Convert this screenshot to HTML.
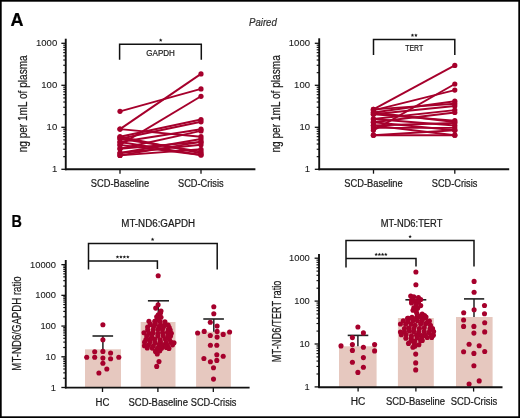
<!DOCTYPE html>
<html><head><meta charset="utf-8"><title>Figure</title>
<style>
html,body{margin:0;padding:0;background:#fff;}
body{width:520px;height:418px;overflow:hidden;font-family:"Liberation Sans",sans-serif;}
svg{display:block;will-change:transform;}
</style></head><body>
<svg width="520" height="418" viewBox="0 0 520 418" font-family="'Liberation Sans', sans-serif">
<rect x="0" y="0" width="520" height="418" fill="#fff"/>
<text x="10.60" y="25.80" font-size="18" text-anchor="start" fill="#000" stroke="#000" stroke-width="0.22" font-weight="bold">A</text>
<text x="11.40" y="226.80" font-size="17.2" text-anchor="start" fill="#000" stroke="#000" stroke-width="0.22" font-weight="bold" textLength="10.40" lengthAdjust="spacingAndGlyphs">B</text>
<text x="249.00" y="25.60" font-size="10" text-anchor="start" fill="#333" stroke="#333" stroke-width="0.22" font-style="italic" textLength="27.80" lengthAdjust="spacingAndGlyphs">Paired</text>
<line x1="65.75" y1="38.70" x2="65.75" y2="170.20" stroke="#111" stroke-width="1.9" stroke-linecap="butt"/>
<line x1="61.35" y1="169.30" x2="65.75" y2="169.30" stroke="#111" stroke-width="1.3" stroke-linecap="butt"/>
<text x="57.20" y="172.40" font-size="9.8" text-anchor="end" fill="#1a1a1a" stroke="#1a1a1a" stroke-width="0.1" textLength="5.30" lengthAdjust="spacingAndGlyphs">1</text>
<line x1="63.25" y1="156.66" x2="65.75" y2="156.66" stroke="#111" stroke-width="1.15" stroke-linecap="butt"/>
<line x1="63.25" y1="149.26" x2="65.75" y2="149.26" stroke="#111" stroke-width="1.15" stroke-linecap="butt"/>
<line x1="63.25" y1="144.01" x2="65.75" y2="144.01" stroke="#111" stroke-width="1.15" stroke-linecap="butt"/>
<line x1="63.25" y1="139.94" x2="65.75" y2="139.94" stroke="#111" stroke-width="1.15" stroke-linecap="butt"/>
<line x1="63.25" y1="136.62" x2="65.75" y2="136.62" stroke="#111" stroke-width="1.15" stroke-linecap="butt"/>
<line x1="63.25" y1="133.81" x2="65.75" y2="133.81" stroke="#111" stroke-width="1.15" stroke-linecap="butt"/>
<line x1="63.25" y1="131.37" x2="65.75" y2="131.37" stroke="#111" stroke-width="1.15" stroke-linecap="butt"/>
<line x1="63.25" y1="129.22" x2="65.75" y2="129.22" stroke="#111" stroke-width="1.15" stroke-linecap="butt"/>
<line x1="61.35" y1="127.30" x2="65.75" y2="127.30" stroke="#111" stroke-width="1.3" stroke-linecap="butt"/>
<text x="57.20" y="130.40" font-size="9.8" text-anchor="end" fill="#1a1a1a" stroke="#1a1a1a" stroke-width="0.1" textLength="10.60" lengthAdjust="spacingAndGlyphs">10</text>
<line x1="63.25" y1="114.66" x2="65.75" y2="114.66" stroke="#111" stroke-width="1.15" stroke-linecap="butt"/>
<line x1="63.25" y1="107.26" x2="65.75" y2="107.26" stroke="#111" stroke-width="1.15" stroke-linecap="butt"/>
<line x1="63.25" y1="102.01" x2="65.75" y2="102.01" stroke="#111" stroke-width="1.15" stroke-linecap="butt"/>
<line x1="63.25" y1="97.94" x2="65.75" y2="97.94" stroke="#111" stroke-width="1.15" stroke-linecap="butt"/>
<line x1="63.25" y1="94.62" x2="65.75" y2="94.62" stroke="#111" stroke-width="1.15" stroke-linecap="butt"/>
<line x1="63.25" y1="91.81" x2="65.75" y2="91.81" stroke="#111" stroke-width="1.15" stroke-linecap="butt"/>
<line x1="63.25" y1="89.37" x2="65.75" y2="89.37" stroke="#111" stroke-width="1.15" stroke-linecap="butt"/>
<line x1="63.25" y1="87.22" x2="65.75" y2="87.22" stroke="#111" stroke-width="1.15" stroke-linecap="butt"/>
<line x1="61.35" y1="85.30" x2="65.75" y2="85.30" stroke="#111" stroke-width="1.3" stroke-linecap="butt"/>
<text x="57.20" y="88.40" font-size="9.8" text-anchor="end" fill="#1a1a1a" stroke="#1a1a1a" stroke-width="0.1" textLength="15.90" lengthAdjust="spacingAndGlyphs">100</text>
<line x1="63.25" y1="72.66" x2="65.75" y2="72.66" stroke="#111" stroke-width="1.15" stroke-linecap="butt"/>
<line x1="63.25" y1="65.26" x2="65.75" y2="65.26" stroke="#111" stroke-width="1.15" stroke-linecap="butt"/>
<line x1="63.25" y1="60.01" x2="65.75" y2="60.01" stroke="#111" stroke-width="1.15" stroke-linecap="butt"/>
<line x1="63.25" y1="55.94" x2="65.75" y2="55.94" stroke="#111" stroke-width="1.15" stroke-linecap="butt"/>
<line x1="63.25" y1="52.62" x2="65.75" y2="52.62" stroke="#111" stroke-width="1.15" stroke-linecap="butt"/>
<line x1="63.25" y1="49.81" x2="65.75" y2="49.81" stroke="#111" stroke-width="1.15" stroke-linecap="butt"/>
<line x1="63.25" y1="47.37" x2="65.75" y2="47.37" stroke="#111" stroke-width="1.15" stroke-linecap="butt"/>
<line x1="63.25" y1="45.22" x2="65.75" y2="45.22" stroke="#111" stroke-width="1.15" stroke-linecap="butt"/>
<line x1="61.35" y1="43.30" x2="65.75" y2="43.30" stroke="#111" stroke-width="1.3" stroke-linecap="butt"/>
<text x="57.20" y="46.40" font-size="9.8" text-anchor="end" fill="#1a1a1a" stroke="#1a1a1a" stroke-width="0.1" textLength="21.20" lengthAdjust="spacingAndGlyphs">1000</text>
<line x1="65.00" y1="169.30" x2="255.40" y2="169.30" stroke="#111" stroke-width="1.9" stroke-linecap="butt"/>
<line x1="120.00" y1="169.30" x2="120.00" y2="173.70" stroke="#111" stroke-width="1.3" stroke-linecap="butt"/>
<line x1="201.00" y1="169.30" x2="201.00" y2="173.70" stroke="#111" stroke-width="1.3" stroke-linecap="butt"/>
<text x="120.00" y="186.60" font-size="10" text-anchor="middle" fill="#1a1a1a" stroke="#1a1a1a" stroke-width="0.22" textLength="58.40" lengthAdjust="spacingAndGlyphs">SCD-Baseline</text>
<text x="200.80" y="186.60" font-size="10" text-anchor="middle" fill="#1a1a1a" stroke="#1a1a1a" stroke-width="0.22" textLength="45.60" lengthAdjust="spacingAndGlyphs">SCD-Crisis</text>
<text x="26.60" y="103.85" font-size="12.5" text-anchor="middle" fill="#1a1a1a" stroke="#1a1a1a" stroke-width="0.22" textLength="97.00" lengthAdjust="spacingAndGlyphs" transform="rotate(-90 26.60 103.85)">ng per 1mL of plasma</text>
<path d="M119.6 59.8 V44.2 H201.3 V59.8" fill="none" stroke="#111" stroke-width="1.5"/>
<polygon points="160.70,38.35 161.20,39.51 162.46,39.63 161.51,40.46 161.79,41.70 160.70,41.05 159.61,41.70 159.89,40.46 158.94,39.63 160.20,39.51" fill="#1a1a1a"/>
<text x="160.60" y="55.60" font-size="9" text-anchor="middle" fill="#1a1a1a" stroke="#1a1a1a" stroke-width="0.22" textLength="28.60" lengthAdjust="spacingAndGlyphs">GAPDH</text>
<line x1="120.00" y1="111.30" x2="201.00" y2="88.90" stroke="#a6002c" stroke-width="1.9" stroke-linecap="butt"/>
<line x1="120.00" y1="129.10" x2="201.00" y2="73.90" stroke="#a6002c" stroke-width="1.9" stroke-linecap="butt"/>
<line x1="120.00" y1="144.90" x2="201.00" y2="96.30" stroke="#a6002c" stroke-width="1.9" stroke-linecap="butt"/>
<line x1="120.00" y1="129.10" x2="201.00" y2="136.70" stroke="#a6002c" stroke-width="1.9" stroke-linecap="butt"/>
<line x1="120.00" y1="136.80" x2="201.00" y2="119.50" stroke="#a6002c" stroke-width="1.9" stroke-linecap="butt"/>
<line x1="120.00" y1="136.80" x2="201.00" y2="153.30" stroke="#a6002c" stroke-width="1.9" stroke-linecap="butt"/>
<line x1="120.00" y1="138.70" x2="201.00" y2="121.80" stroke="#a6002c" stroke-width="1.9" stroke-linecap="butt"/>
<line x1="120.00" y1="138.70" x2="201.00" y2="151.60" stroke="#a6002c" stroke-width="1.9" stroke-linecap="butt"/>
<line x1="120.00" y1="142.00" x2="201.00" y2="129.20" stroke="#a6002c" stroke-width="1.9" stroke-linecap="butt"/>
<line x1="120.00" y1="142.00" x2="201.00" y2="155.00" stroke="#a6002c" stroke-width="1.9" stroke-linecap="butt"/>
<line x1="120.00" y1="148.70" x2="201.00" y2="130.90" stroke="#a6002c" stroke-width="1.9" stroke-linecap="butt"/>
<line x1="120.00" y1="148.70" x2="201.00" y2="141.90" stroke="#a6002c" stroke-width="1.9" stroke-linecap="butt"/>
<line x1="120.00" y1="153.00" x2="201.00" y2="139.00" stroke="#a6002c" stroke-width="1.9" stroke-linecap="butt"/>
<line x1="120.00" y1="153.00" x2="201.00" y2="144.70" stroke="#a6002c" stroke-width="1.9" stroke-linecap="butt"/>
<line x1="120.00" y1="155.40" x2="201.00" y2="149.30" stroke="#a6002c" stroke-width="1.9" stroke-linecap="butt"/>
<line x1="120.00" y1="144.90" x2="201.00" y2="155.00" stroke="#a6002c" stroke-width="1.9" stroke-linecap="butt"/>
<line x1="120.00" y1="155.40" x2="201.00" y2="141.90" stroke="#a6002c" stroke-width="1.9" stroke-linecap="butt"/>
<circle cx="120.0" cy="111.3" r="2.6" fill="#a6002c"/>
<circle cx="201.0" cy="88.9" r="2.6" fill="#a6002c"/>
<circle cx="120.0" cy="129.1" r="2.6" fill="#a6002c"/>
<circle cx="201.0" cy="73.9" r="2.6" fill="#a6002c"/>
<circle cx="120.0" cy="144.9" r="2.6" fill="#a6002c"/>
<circle cx="201.0" cy="96.3" r="2.6" fill="#a6002c"/>
<circle cx="120.0" cy="129.1" r="2.6" fill="#a6002c"/>
<circle cx="201.0" cy="136.7" r="2.6" fill="#a6002c"/>
<circle cx="120.0" cy="136.8" r="2.6" fill="#a6002c"/>
<circle cx="201.0" cy="119.5" r="2.6" fill="#a6002c"/>
<circle cx="120.0" cy="136.8" r="2.6" fill="#a6002c"/>
<circle cx="201.0" cy="153.3" r="2.6" fill="#a6002c"/>
<circle cx="120.0" cy="138.7" r="2.6" fill="#a6002c"/>
<circle cx="201.0" cy="121.8" r="2.6" fill="#a6002c"/>
<circle cx="120.0" cy="138.7" r="2.6" fill="#a6002c"/>
<circle cx="201.0" cy="151.6" r="2.6" fill="#a6002c"/>
<circle cx="120.0" cy="142" r="2.6" fill="#a6002c"/>
<circle cx="201.0" cy="129.2" r="2.6" fill="#a6002c"/>
<circle cx="120.0" cy="142" r="2.6" fill="#a6002c"/>
<circle cx="201.0" cy="155" r="2.6" fill="#a6002c"/>
<circle cx="120.0" cy="148.7" r="2.6" fill="#a6002c"/>
<circle cx="201.0" cy="130.9" r="2.6" fill="#a6002c"/>
<circle cx="120.0" cy="148.7" r="2.6" fill="#a6002c"/>
<circle cx="201.0" cy="141.9" r="2.6" fill="#a6002c"/>
<circle cx="120.0" cy="153" r="2.6" fill="#a6002c"/>
<circle cx="201.0" cy="139" r="2.6" fill="#a6002c"/>
<circle cx="120.0" cy="153" r="2.6" fill="#a6002c"/>
<circle cx="201.0" cy="144.7" r="2.6" fill="#a6002c"/>
<circle cx="120.0" cy="155.4" r="2.6" fill="#a6002c"/>
<circle cx="201.0" cy="149.3" r="2.6" fill="#a6002c"/>
<circle cx="120.0" cy="144.9" r="2.6" fill="#a6002c"/>
<circle cx="201.0" cy="155" r="2.6" fill="#a6002c"/>
<circle cx="120.0" cy="155.4" r="2.6" fill="#a6002c"/>
<circle cx="201.0" cy="141.9" r="2.6" fill="#a6002c"/>
<line x1="319.20" y1="38.30" x2="319.20" y2="170.20" stroke="#111" stroke-width="1.9" stroke-linecap="butt"/>
<line x1="314.80" y1="169.30" x2="319.20" y2="169.30" stroke="#111" stroke-width="1.3" stroke-linecap="butt"/>
<text x="310.00" y="172.40" font-size="9.8" text-anchor="end" fill="#1a1a1a" stroke="#1a1a1a" stroke-width="0.1" textLength="5.30" lengthAdjust="spacingAndGlyphs">1</text>
<line x1="316.70" y1="156.66" x2="319.20" y2="156.66" stroke="#111" stroke-width="1.15" stroke-linecap="butt"/>
<line x1="316.70" y1="149.26" x2="319.20" y2="149.26" stroke="#111" stroke-width="1.15" stroke-linecap="butt"/>
<line x1="316.70" y1="144.01" x2="319.20" y2="144.01" stroke="#111" stroke-width="1.15" stroke-linecap="butt"/>
<line x1="316.70" y1="139.94" x2="319.20" y2="139.94" stroke="#111" stroke-width="1.15" stroke-linecap="butt"/>
<line x1="316.70" y1="136.62" x2="319.20" y2="136.62" stroke="#111" stroke-width="1.15" stroke-linecap="butt"/>
<line x1="316.70" y1="133.81" x2="319.20" y2="133.81" stroke="#111" stroke-width="1.15" stroke-linecap="butt"/>
<line x1="316.70" y1="131.37" x2="319.20" y2="131.37" stroke="#111" stroke-width="1.15" stroke-linecap="butt"/>
<line x1="316.70" y1="129.22" x2="319.20" y2="129.22" stroke="#111" stroke-width="1.15" stroke-linecap="butt"/>
<line x1="314.80" y1="127.30" x2="319.20" y2="127.30" stroke="#111" stroke-width="1.3" stroke-linecap="butt"/>
<text x="310.00" y="130.40" font-size="9.8" text-anchor="end" fill="#1a1a1a" stroke="#1a1a1a" stroke-width="0.1" textLength="10.60" lengthAdjust="spacingAndGlyphs">10</text>
<line x1="316.70" y1="114.66" x2="319.20" y2="114.66" stroke="#111" stroke-width="1.15" stroke-linecap="butt"/>
<line x1="316.70" y1="107.26" x2="319.20" y2="107.26" stroke="#111" stroke-width="1.15" stroke-linecap="butt"/>
<line x1="316.70" y1="102.01" x2="319.20" y2="102.01" stroke="#111" stroke-width="1.15" stroke-linecap="butt"/>
<line x1="316.70" y1="97.94" x2="319.20" y2="97.94" stroke="#111" stroke-width="1.15" stroke-linecap="butt"/>
<line x1="316.70" y1="94.62" x2="319.20" y2="94.62" stroke="#111" stroke-width="1.15" stroke-linecap="butt"/>
<line x1="316.70" y1="91.81" x2="319.20" y2="91.81" stroke="#111" stroke-width="1.15" stroke-linecap="butt"/>
<line x1="316.70" y1="89.37" x2="319.20" y2="89.37" stroke="#111" stroke-width="1.15" stroke-linecap="butt"/>
<line x1="316.70" y1="87.22" x2="319.20" y2="87.22" stroke="#111" stroke-width="1.15" stroke-linecap="butt"/>
<line x1="314.80" y1="85.30" x2="319.20" y2="85.30" stroke="#111" stroke-width="1.3" stroke-linecap="butt"/>
<text x="310.00" y="88.40" font-size="9.8" text-anchor="end" fill="#1a1a1a" stroke="#1a1a1a" stroke-width="0.1" textLength="15.90" lengthAdjust="spacingAndGlyphs">100</text>
<line x1="316.70" y1="72.66" x2="319.20" y2="72.66" stroke="#111" stroke-width="1.15" stroke-linecap="butt"/>
<line x1="316.70" y1="65.26" x2="319.20" y2="65.26" stroke="#111" stroke-width="1.15" stroke-linecap="butt"/>
<line x1="316.70" y1="60.01" x2="319.20" y2="60.01" stroke="#111" stroke-width="1.15" stroke-linecap="butt"/>
<line x1="316.70" y1="55.94" x2="319.20" y2="55.94" stroke="#111" stroke-width="1.15" stroke-linecap="butt"/>
<line x1="316.70" y1="52.62" x2="319.20" y2="52.62" stroke="#111" stroke-width="1.15" stroke-linecap="butt"/>
<line x1="316.70" y1="49.81" x2="319.20" y2="49.81" stroke="#111" stroke-width="1.15" stroke-linecap="butt"/>
<line x1="316.70" y1="47.37" x2="319.20" y2="47.37" stroke="#111" stroke-width="1.15" stroke-linecap="butt"/>
<line x1="316.70" y1="45.22" x2="319.20" y2="45.22" stroke="#111" stroke-width="1.15" stroke-linecap="butt"/>
<line x1="314.80" y1="43.30" x2="319.20" y2="43.30" stroke="#111" stroke-width="1.3" stroke-linecap="butt"/>
<text x="310.00" y="46.40" font-size="9.8" text-anchor="end" fill="#1a1a1a" stroke="#1a1a1a" stroke-width="0.1" textLength="21.20" lengthAdjust="spacingAndGlyphs">1000</text>
<line x1="318.50" y1="169.30" x2="509.20" y2="169.30" stroke="#111" stroke-width="1.9" stroke-linecap="butt"/>
<line x1="373.50" y1="169.30" x2="373.50" y2="173.70" stroke="#111" stroke-width="1.3" stroke-linecap="butt"/>
<line x1="454.80" y1="169.30" x2="454.80" y2="173.70" stroke="#111" stroke-width="1.3" stroke-linecap="butt"/>
<text x="373.50" y="186.60" font-size="10" text-anchor="middle" fill="#1a1a1a" stroke="#1a1a1a" stroke-width="0.22" textLength="58.40" lengthAdjust="spacingAndGlyphs">SCD-Baseline</text>
<text x="454.60" y="186.60" font-size="10" text-anchor="middle" fill="#1a1a1a" stroke="#1a1a1a" stroke-width="0.22" textLength="45.60" lengthAdjust="spacingAndGlyphs">SCD-Crisis</text>
<text x="280.40" y="103.90" font-size="12.5" text-anchor="middle" fill="#1a1a1a" stroke="#1a1a1a" stroke-width="0.22" textLength="97.30" lengthAdjust="spacingAndGlyphs" transform="rotate(-90 280.40 103.90)">ng per 1mL of plasma</text>
<path d="M373.5 55.0 V39.5 H454.8 V55.0" fill="none" stroke="#111" stroke-width="1.5"/>
<polygon points="412.47,33.45 412.97,34.61 414.23,34.73 413.28,35.56 413.56,36.80 412.47,36.15 411.39,36.80 411.67,35.56 410.72,34.73 411.98,34.61" fill="#1a1a1a"/>
<polygon points="415.92,33.45 416.42,34.61 417.68,34.73 416.73,35.56 417.01,36.80 415.92,36.15 414.84,36.80 415.12,35.56 414.17,34.73 415.43,34.61" fill="#1a1a1a"/>
<text x="414.20" y="51.20" font-size="9" text-anchor="middle" fill="#1a1a1a" stroke="#1a1a1a" stroke-width="0.22" textLength="17.90" lengthAdjust="spacingAndGlyphs">TERT</text>
<line x1="373.40" y1="109.40" x2="454.80" y2="65.40" stroke="#a6002c" stroke-width="1.9" stroke-linecap="butt"/>
<line x1="373.40" y1="110.40" x2="454.80" y2="90.10" stroke="#a6002c" stroke-width="1.9" stroke-linecap="butt"/>
<line x1="373.40" y1="130.30" x2="454.80" y2="84.00" stroke="#a6002c" stroke-width="1.9" stroke-linecap="butt"/>
<line x1="373.40" y1="109.40" x2="454.80" y2="103.70" stroke="#a6002c" stroke-width="1.9" stroke-linecap="butt"/>
<line x1="373.40" y1="112.50" x2="454.80" y2="101.20" stroke="#a6002c" stroke-width="1.9" stroke-linecap="butt"/>
<line x1="373.40" y1="114.20" x2="454.80" y2="106.00" stroke="#a6002c" stroke-width="1.9" stroke-linecap="butt"/>
<line x1="373.40" y1="119.00" x2="454.80" y2="110.10" stroke="#a6002c" stroke-width="1.9" stroke-linecap="butt"/>
<line x1="373.40" y1="122.20" x2="454.80" y2="112.50" stroke="#a6002c" stroke-width="1.9" stroke-linecap="butt"/>
<line x1="373.40" y1="114.20" x2="454.80" y2="120.60" stroke="#a6002c" stroke-width="1.9" stroke-linecap="butt"/>
<line x1="373.40" y1="125.50" x2="454.80" y2="123.00" stroke="#a6002c" stroke-width="1.9" stroke-linecap="butt"/>
<line x1="373.40" y1="119.00" x2="454.80" y2="125.50" stroke="#a6002c" stroke-width="1.9" stroke-linecap="butt"/>
<line x1="373.40" y1="127.90" x2="454.80" y2="127.90" stroke="#a6002c" stroke-width="1.9" stroke-linecap="butt"/>
<line x1="373.40" y1="122.20" x2="454.80" y2="130.30" stroke="#a6002c" stroke-width="1.9" stroke-linecap="butt"/>
<line x1="373.40" y1="135.20" x2="454.80" y2="130.30" stroke="#a6002c" stroke-width="1.9" stroke-linecap="butt"/>
<line x1="373.40" y1="125.50" x2="454.80" y2="135.20" stroke="#a6002c" stroke-width="1.9" stroke-linecap="butt"/>
<line x1="373.40" y1="112.50" x2="454.80" y2="122.00" stroke="#a6002c" stroke-width="1.9" stroke-linecap="butt"/>
<line x1="373.40" y1="135.20" x2="454.80" y2="135.20" stroke="#a6002c" stroke-width="1.9" stroke-linecap="butt"/>
<circle cx="373.4" cy="109.4" r="2.6" fill="#a6002c"/>
<circle cx="454.8" cy="65.4" r="2.6" fill="#a6002c"/>
<circle cx="373.4" cy="110.4" r="2.6" fill="#a6002c"/>
<circle cx="454.8" cy="90.1" r="2.6" fill="#a6002c"/>
<circle cx="373.4" cy="130.3" r="2.6" fill="#a6002c"/>
<circle cx="454.8" cy="84.0" r="2.6" fill="#a6002c"/>
<circle cx="373.4" cy="109.4" r="2.6" fill="#a6002c"/>
<circle cx="454.8" cy="103.7" r="2.6" fill="#a6002c"/>
<circle cx="373.4" cy="112.5" r="2.6" fill="#a6002c"/>
<circle cx="454.8" cy="101.2" r="2.6" fill="#a6002c"/>
<circle cx="373.4" cy="114.2" r="2.6" fill="#a6002c"/>
<circle cx="454.8" cy="106" r="2.6" fill="#a6002c"/>
<circle cx="373.4" cy="119" r="2.6" fill="#a6002c"/>
<circle cx="454.8" cy="110.1" r="2.6" fill="#a6002c"/>
<circle cx="373.4" cy="122.2" r="2.6" fill="#a6002c"/>
<circle cx="454.8" cy="112.5" r="2.6" fill="#a6002c"/>
<circle cx="373.4" cy="114.2" r="2.6" fill="#a6002c"/>
<circle cx="454.8" cy="120.6" r="2.6" fill="#a6002c"/>
<circle cx="373.4" cy="125.5" r="2.6" fill="#a6002c"/>
<circle cx="454.8" cy="123" r="2.6" fill="#a6002c"/>
<circle cx="373.4" cy="119" r="2.6" fill="#a6002c"/>
<circle cx="454.8" cy="125.5" r="2.6" fill="#a6002c"/>
<circle cx="373.4" cy="127.9" r="2.6" fill="#a6002c"/>
<circle cx="454.8" cy="127.9" r="2.6" fill="#a6002c"/>
<circle cx="373.4" cy="122.2" r="2.6" fill="#a6002c"/>
<circle cx="454.8" cy="130.3" r="2.6" fill="#a6002c"/>
<circle cx="373.4" cy="135.2" r="2.6" fill="#a6002c"/>
<circle cx="454.8" cy="130.3" r="2.6" fill="#a6002c"/>
<circle cx="373.4" cy="125.5" r="2.6" fill="#a6002c"/>
<circle cx="454.8" cy="135.2" r="2.6" fill="#a6002c"/>
<circle cx="373.4" cy="112.5" r="2.6" fill="#a6002c"/>
<circle cx="454.8" cy="122" r="2.6" fill="#a6002c"/>
<circle cx="373.4" cy="135.2" r="2.6" fill="#a6002c"/>
<circle cx="454.8" cy="135.2" r="2.6" fill="#a6002c"/>
<rect x="85.00" y="349.30" width="36.00" height="38.20" fill="#e6c8bf"/>
<rect x="140.70" y="322.00" width="34.80" height="65.50" fill="#e6c8bf"/>
<rect x="196.10" y="331.70" width="34.80" height="55.80" fill="#e6c8bf"/>
<line x1="102.90" y1="336.00" x2="102.90" y2="349.30" stroke="#222" stroke-width="1.5" stroke-linecap="butt"/>
<line x1="92.50" y1="336.00" x2="113.10" y2="336.00" stroke="#222" stroke-width="1.6" stroke-linecap="butt"/>
<line x1="158.30" y1="300.80" x2="158.30" y2="322.00" stroke="#222" stroke-width="1.5" stroke-linecap="butt"/>
<line x1="147.90" y1="300.80" x2="169.00" y2="300.80" stroke="#222" stroke-width="1.6" stroke-linecap="butt"/>
<line x1="213.80" y1="319.00" x2="213.80" y2="331.70" stroke="#222" stroke-width="1.5" stroke-linecap="butt"/>
<line x1="203.30" y1="319.00" x2="223.90" y2="319.00" stroke="#222" stroke-width="1.6" stroke-linecap="butt"/>
<circle cx="102.90" cy="324.70" r="2.55" fill="#a6002c"/>
<circle cx="102.90" cy="339.70" r="2.55" fill="#a6002c"/>
<circle cx="94.70" cy="351.80" r="2.55" fill="#a6002c"/>
<circle cx="102.90" cy="351.40" r="2.55" fill="#a6002c"/>
<circle cx="110.60" cy="353.00" r="2.55" fill="#a6002c"/>
<circle cx="86.70" cy="357.30" r="2.55" fill="#a6002c"/>
<circle cx="94.70" cy="357.30" r="2.55" fill="#a6002c"/>
<circle cx="102.90" cy="358.10" r="2.55" fill="#a6002c"/>
<circle cx="110.60" cy="358.80" r="2.55" fill="#a6002c"/>
<circle cx="118.80" cy="357.30" r="2.55" fill="#a6002c"/>
<circle cx="102.90" cy="363.20" r="2.55" fill="#a6002c"/>
<circle cx="106.80" cy="369.00" r="2.55" fill="#a6002c"/>
<circle cx="98.90" cy="373.00" r="2.55" fill="#a6002c"/>
<circle cx="158.20" cy="275.70" r="2.55" fill="#a6002c"/>
<circle cx="158.10" cy="304.80" r="2.55" fill="#a6002c"/>
<circle cx="155.70" cy="308.10" r="2.55" fill="#a6002c"/>
<circle cx="161.00" cy="311.00" r="2.55" fill="#a6002c"/>
<circle cx="160.50" cy="312.90" r="2.55" fill="#a6002c"/>
<circle cx="158.30" cy="314.80" r="2.55" fill="#a6002c"/>
<circle cx="156.70" cy="316.70" r="2.55" fill="#a6002c"/>
<circle cx="161.00" cy="317.20" r="2.55" fill="#a6002c"/>
<circle cx="158.60" cy="319.60" r="2.55" fill="#a6002c"/>
<circle cx="155.50" cy="321.00" r="2.55" fill="#a6002c"/>
<circle cx="159.00" cy="361.60" r="2.55" fill="#a6002c"/>
<circle cx="156.70" cy="366.40" r="2.55" fill="#a6002c"/>
<circle cx="148.94" cy="321.31" r="2.55" fill="#a6002c"/>
<circle cx="154.76" cy="321.20" r="2.55" fill="#a6002c"/>
<circle cx="160.06" cy="321.61" r="2.55" fill="#a6002c"/>
<circle cx="164.92" cy="321.81" r="2.55" fill="#a6002c"/>
<circle cx="150.42" cy="324.41" r="2.55" fill="#a6002c"/>
<circle cx="155.31" cy="323.93" r="2.55" fill="#a6002c"/>
<circle cx="160.58" cy="324.96" r="2.55" fill="#a6002c"/>
<circle cx="165.07" cy="324.11" r="2.55" fill="#a6002c"/>
<circle cx="168.10" cy="325.13" r="2.55" fill="#a6002c"/>
<circle cx="147.64" cy="327.06" r="2.55" fill="#a6002c"/>
<circle cx="153.60" cy="326.57" r="2.55" fill="#a6002c"/>
<circle cx="158.93" cy="326.91" r="2.55" fill="#a6002c"/>
<circle cx="163.55" cy="326.66" r="2.55" fill="#a6002c"/>
<circle cx="169.22" cy="327.64" r="2.55" fill="#a6002c"/>
<circle cx="147.66" cy="330.11" r="2.55" fill="#a6002c"/>
<circle cx="153.19" cy="329.82" r="2.55" fill="#a6002c"/>
<circle cx="158.06" cy="329.39" r="2.55" fill="#a6002c"/>
<circle cx="162.45" cy="329.59" r="2.55" fill="#a6002c"/>
<circle cx="168.18" cy="329.90" r="2.55" fill="#a6002c"/>
<circle cx="170.23" cy="330.12" r="2.55" fill="#a6002c"/>
<circle cx="143.99" cy="332.72" r="2.55" fill="#a6002c"/>
<circle cx="148.97" cy="333.28" r="2.55" fill="#a6002c"/>
<circle cx="152.88" cy="333.10" r="2.55" fill="#a6002c"/>
<circle cx="157.78" cy="333.53" r="2.55" fill="#a6002c"/>
<circle cx="162.59" cy="332.70" r="2.55" fill="#a6002c"/>
<circle cx="167.46" cy="332.47" r="2.55" fill="#a6002c"/>
<circle cx="171.35" cy="333.36" r="2.55" fill="#a6002c"/>
<circle cx="146.72" cy="335.98" r="2.55" fill="#a6002c"/>
<circle cx="151.77" cy="336.24" r="2.55" fill="#a6002c"/>
<circle cx="157.82" cy="336.10" r="2.55" fill="#a6002c"/>
<circle cx="163.13" cy="335.74" r="2.55" fill="#a6002c"/>
<circle cx="168.09" cy="336.13" r="2.55" fill="#a6002c"/>
<circle cx="170.55" cy="335.94" r="2.55" fill="#a6002c"/>
<circle cx="145.96" cy="339.62" r="2.55" fill="#a6002c"/>
<circle cx="150.30" cy="339.23" r="2.55" fill="#a6002c"/>
<circle cx="154.58" cy="339.28" r="2.55" fill="#a6002c"/>
<circle cx="160.07" cy="339.69" r="2.55" fill="#a6002c"/>
<circle cx="165.06" cy="338.70" r="2.55" fill="#a6002c"/>
<circle cx="169.31" cy="339.24" r="2.55" fill="#a6002c"/>
<circle cx="144.59" cy="342.15" r="2.55" fill="#a6002c"/>
<circle cx="150.00" cy="341.66" r="2.55" fill="#a6002c"/>
<circle cx="155.10" cy="342.58" r="2.55" fill="#a6002c"/>
<circle cx="160.42" cy="341.85" r="2.55" fill="#a6002c"/>
<circle cx="165.97" cy="342.72" r="2.55" fill="#a6002c"/>
<circle cx="170.83" cy="342.13" r="2.55" fill="#a6002c"/>
<circle cx="174.01" cy="342.74" r="2.55" fill="#a6002c"/>
<circle cx="144.43" cy="345.71" r="2.55" fill="#a6002c"/>
<circle cx="148.52" cy="345.08" r="2.55" fill="#a6002c"/>
<circle cx="153.35" cy="345.74" r="2.55" fill="#a6002c"/>
<circle cx="158.80" cy="344.71" r="2.55" fill="#a6002c"/>
<circle cx="162.59" cy="344.82" r="2.55" fill="#a6002c"/>
<circle cx="167.40" cy="345.18" r="2.55" fill="#a6002c"/>
<circle cx="172.56" cy="344.87" r="2.55" fill="#a6002c"/>
<circle cx="147.24" cy="347.89" r="2.55" fill="#a6002c"/>
<circle cx="152.26" cy="348.09" r="2.55" fill="#a6002c"/>
<circle cx="157.54" cy="348.27" r="2.55" fill="#a6002c"/>
<circle cx="161.60" cy="348.16" r="2.55" fill="#a6002c"/>
<circle cx="166.37" cy="347.38" r="2.55" fill="#a6002c"/>
<circle cx="168.93" cy="348.39" r="2.55" fill="#a6002c"/>
<circle cx="155.50" cy="351.42" r="2.55" fill="#a6002c"/>
<circle cx="159.82" cy="350.86" r="2.55" fill="#a6002c"/>
<circle cx="157.25" cy="354.00" r="2.55" fill="#a6002c"/>
<circle cx="213.80" cy="306.70" r="2.55" fill="#a6002c"/>
<circle cx="213.80" cy="313.70" r="2.55" fill="#a6002c"/>
<circle cx="210.30" cy="322.30" r="2.55" fill="#a6002c"/>
<circle cx="217.10" cy="326.00" r="2.55" fill="#a6002c"/>
<circle cx="217.10" cy="331.40" r="2.55" fill="#a6002c"/>
<circle cx="197.60" cy="333.00" r="2.55" fill="#a6002c"/>
<circle cx="204.20" cy="331.40" r="2.55" fill="#a6002c"/>
<circle cx="210.30" cy="335.50" r="2.55" fill="#a6002c"/>
<circle cx="217.10" cy="337.10" r="2.55" fill="#a6002c"/>
<circle cx="223.20" cy="334.40" r="2.55" fill="#a6002c"/>
<circle cx="229.60" cy="332.00" r="2.55" fill="#a6002c"/>
<circle cx="210.40" cy="345.30" r="2.55" fill="#a6002c"/>
<circle cx="216.80" cy="345.30" r="2.55" fill="#a6002c"/>
<circle cx="216.80" cy="354.80" r="2.55" fill="#a6002c"/>
<circle cx="223.20" cy="356.30" r="2.55" fill="#a6002c"/>
<circle cx="203.90" cy="358.50" r="2.55" fill="#a6002c"/>
<circle cx="210.40" cy="361.70" r="2.55" fill="#a6002c"/>
<circle cx="216.80" cy="360.40" r="2.55" fill="#a6002c"/>
<circle cx="213.50" cy="367.70" r="2.55" fill="#a6002c"/>
<circle cx="213.50" cy="379.10" r="2.55" fill="#a6002c"/>
<line x1="65.75" y1="260.00" x2="65.75" y2="388.40" stroke="#111" stroke-width="1.9" stroke-linecap="butt"/>
<line x1="61.35" y1="387.50" x2="65.75" y2="387.50" stroke="#111" stroke-width="1.3" stroke-linecap="butt"/>
<text x="56.00" y="390.60" font-size="9.8" text-anchor="end" fill="#1a1a1a" stroke="#1a1a1a" stroke-width="0.1" textLength="5.20" lengthAdjust="spacingAndGlyphs">1</text>
<line x1="63.25" y1="378.25" x2="65.75" y2="378.25" stroke="#111" stroke-width="1.15" stroke-linecap="butt"/>
<line x1="63.25" y1="372.84" x2="65.75" y2="372.84" stroke="#111" stroke-width="1.15" stroke-linecap="butt"/>
<line x1="63.25" y1="369.00" x2="65.75" y2="369.00" stroke="#111" stroke-width="1.15" stroke-linecap="butt"/>
<line x1="63.25" y1="366.03" x2="65.75" y2="366.03" stroke="#111" stroke-width="1.15" stroke-linecap="butt"/>
<line x1="63.25" y1="363.60" x2="65.75" y2="363.60" stroke="#111" stroke-width="1.15" stroke-linecap="butt"/>
<line x1="63.25" y1="361.54" x2="65.75" y2="361.54" stroke="#111" stroke-width="1.15" stroke-linecap="butt"/>
<line x1="63.25" y1="359.76" x2="65.75" y2="359.76" stroke="#111" stroke-width="1.15" stroke-linecap="butt"/>
<line x1="63.25" y1="358.19" x2="65.75" y2="358.19" stroke="#111" stroke-width="1.15" stroke-linecap="butt"/>
<line x1="61.35" y1="356.78" x2="65.75" y2="356.78" stroke="#111" stroke-width="1.3" stroke-linecap="butt"/>
<text x="56.00" y="359.88" font-size="9.8" text-anchor="end" fill="#1a1a1a" stroke="#1a1a1a" stroke-width="0.1" textLength="10.40" lengthAdjust="spacingAndGlyphs">10</text>
<line x1="63.25" y1="347.53" x2="65.75" y2="347.53" stroke="#111" stroke-width="1.15" stroke-linecap="butt"/>
<line x1="63.25" y1="342.12" x2="65.75" y2="342.12" stroke="#111" stroke-width="1.15" stroke-linecap="butt"/>
<line x1="63.25" y1="338.28" x2="65.75" y2="338.28" stroke="#111" stroke-width="1.15" stroke-linecap="butt"/>
<line x1="63.25" y1="335.31" x2="65.75" y2="335.31" stroke="#111" stroke-width="1.15" stroke-linecap="butt"/>
<line x1="63.25" y1="332.88" x2="65.75" y2="332.88" stroke="#111" stroke-width="1.15" stroke-linecap="butt"/>
<line x1="63.25" y1="330.82" x2="65.75" y2="330.82" stroke="#111" stroke-width="1.15" stroke-linecap="butt"/>
<line x1="63.25" y1="329.04" x2="65.75" y2="329.04" stroke="#111" stroke-width="1.15" stroke-linecap="butt"/>
<line x1="63.25" y1="327.47" x2="65.75" y2="327.47" stroke="#111" stroke-width="1.15" stroke-linecap="butt"/>
<line x1="61.35" y1="326.06" x2="65.75" y2="326.06" stroke="#111" stroke-width="1.3" stroke-linecap="butt"/>
<text x="56.00" y="329.16" font-size="9.8" text-anchor="end" fill="#1a1a1a" stroke="#1a1a1a" stroke-width="0.1" textLength="15.60" lengthAdjust="spacingAndGlyphs">100</text>
<line x1="63.25" y1="316.81" x2="65.75" y2="316.81" stroke="#111" stroke-width="1.15" stroke-linecap="butt"/>
<line x1="63.25" y1="311.40" x2="65.75" y2="311.40" stroke="#111" stroke-width="1.15" stroke-linecap="butt"/>
<line x1="63.25" y1="307.56" x2="65.75" y2="307.56" stroke="#111" stroke-width="1.15" stroke-linecap="butt"/>
<line x1="63.25" y1="304.59" x2="65.75" y2="304.59" stroke="#111" stroke-width="1.15" stroke-linecap="butt"/>
<line x1="63.25" y1="302.16" x2="65.75" y2="302.16" stroke="#111" stroke-width="1.15" stroke-linecap="butt"/>
<line x1="63.25" y1="300.10" x2="65.75" y2="300.10" stroke="#111" stroke-width="1.15" stroke-linecap="butt"/>
<line x1="63.25" y1="298.32" x2="65.75" y2="298.32" stroke="#111" stroke-width="1.15" stroke-linecap="butt"/>
<line x1="63.25" y1="296.75" x2="65.75" y2="296.75" stroke="#111" stroke-width="1.15" stroke-linecap="butt"/>
<line x1="61.35" y1="295.34" x2="65.75" y2="295.34" stroke="#111" stroke-width="1.3" stroke-linecap="butt"/>
<text x="56.00" y="298.44" font-size="9.8" text-anchor="end" fill="#1a1a1a" stroke="#1a1a1a" stroke-width="0.1" textLength="20.80" lengthAdjust="spacingAndGlyphs">1000</text>
<line x1="63.25" y1="286.09" x2="65.75" y2="286.09" stroke="#111" stroke-width="1.15" stroke-linecap="butt"/>
<line x1="63.25" y1="280.68" x2="65.75" y2="280.68" stroke="#111" stroke-width="1.15" stroke-linecap="butt"/>
<line x1="63.25" y1="276.84" x2="65.75" y2="276.84" stroke="#111" stroke-width="1.15" stroke-linecap="butt"/>
<line x1="63.25" y1="273.87" x2="65.75" y2="273.87" stroke="#111" stroke-width="1.15" stroke-linecap="butt"/>
<line x1="63.25" y1="271.44" x2="65.75" y2="271.44" stroke="#111" stroke-width="1.15" stroke-linecap="butt"/>
<line x1="63.25" y1="269.38" x2="65.75" y2="269.38" stroke="#111" stroke-width="1.15" stroke-linecap="butt"/>
<line x1="63.25" y1="267.60" x2="65.75" y2="267.60" stroke="#111" stroke-width="1.15" stroke-linecap="butt"/>
<line x1="63.25" y1="266.03" x2="65.75" y2="266.03" stroke="#111" stroke-width="1.15" stroke-linecap="butt"/>
<line x1="61.35" y1="264.62" x2="65.75" y2="264.62" stroke="#111" stroke-width="1.3" stroke-linecap="butt"/>
<text x="56.00" y="267.72" font-size="9.8" text-anchor="end" fill="#1a1a1a" stroke="#1a1a1a" stroke-width="0.1" textLength="26.00" lengthAdjust="spacingAndGlyphs">10000</text>
<line x1="65.00" y1="387.60" x2="249.60" y2="387.60" stroke="#111" stroke-width="1.9" stroke-linecap="butt"/>
<line x1="102.50" y1="387.60" x2="102.50" y2="392.00" stroke="#111" stroke-width="1.3" stroke-linecap="butt"/>
<line x1="157.90" y1="387.60" x2="157.90" y2="392.00" stroke="#111" stroke-width="1.3" stroke-linecap="butt"/>
<line x1="213.30" y1="387.60" x2="213.30" y2="392.00" stroke="#111" stroke-width="1.3" stroke-linecap="butt"/>
<text x="102.50" y="405.60" font-size="10" text-anchor="middle" fill="#1a1a1a" stroke="#1a1a1a" stroke-width="0.22" textLength="13.80" lengthAdjust="spacingAndGlyphs">HC</text>
<text x="158.20" y="405.60" font-size="10" text-anchor="middle" fill="#1a1a1a" stroke="#1a1a1a" stroke-width="0.22" textLength="59.40" lengthAdjust="spacingAndGlyphs">SCD-Baseline</text>
<text x="213.60" y="405.60" font-size="10" text-anchor="middle" fill="#1a1a1a" stroke="#1a1a1a" stroke-width="0.22" textLength="45.70" lengthAdjust="spacingAndGlyphs">SCD-Crisis</text>
<text x="21.20" y="323.50" font-size="12.5" text-anchor="middle" fill="#1a1a1a" stroke="#1a1a1a" stroke-width="0.22" textLength="94.30" lengthAdjust="spacingAndGlyphs" transform="rotate(-90 21.20 323.50)">MT-ND6/GAPDH ratio</text>
<text x="158.20" y="227.00" font-size="10" text-anchor="middle" fill="#1a1a1a" stroke="#1a1a1a" stroke-width="0.22" textLength="73.80" lengthAdjust="spacingAndGlyphs">MT-ND6:GAPDH</text>
<path d="M88.5 269.6 V243.6 H217.2 V269.6" fill="none" stroke="#111" stroke-width="1.5"/>
<path d="M88.5 261.0 H157.4 V269.0" fill="none" stroke="#111" stroke-width="1.5"/>
<polygon points="152.60,237.55 153.10,238.71 154.36,238.83 153.41,239.66 153.69,240.90 152.60,240.25 151.51,240.90 151.79,239.66 150.84,238.83 152.10,238.71" fill="#1a1a1a"/>
<polygon points="117.48,255.15 117.97,256.31 119.23,256.43 118.28,257.26 118.56,258.50 117.48,257.85 116.39,258.50 116.67,257.26 115.72,256.43 116.98,256.31" fill="#1a1a1a"/>
<polygon points="120.93,255.15 121.42,256.31 122.68,256.43 121.73,257.26 122.01,258.50 120.93,257.85 119.84,258.50 120.12,257.26 119.17,256.43 120.43,256.31" fill="#1a1a1a"/>
<polygon points="124.38,255.15 124.87,256.31 126.13,256.43 125.18,257.26 125.46,258.50 124.38,257.85 123.29,258.50 123.57,257.26 122.62,256.43 123.88,256.31" fill="#1a1a1a"/>
<polygon points="127.83,255.15 128.32,256.31 129.58,256.43 128.63,257.26 128.91,258.50 127.83,257.85 126.74,258.50 127.02,257.26 126.07,256.43 127.33,256.31" fill="#1a1a1a"/>
<rect x="339.00" y="346.30" width="37.60" height="41.00" fill="#e6c8bf"/>
<rect x="397.90" y="318.00" width="35.90" height="69.30" fill="#e6c8bf"/>
<rect x="456.00" y="317.00" width="36.60" height="70.30" fill="#e6c8bf"/>
<line x1="357.90" y1="335.40" x2="357.90" y2="346.30" stroke="#222" stroke-width="1.5" stroke-linecap="butt"/>
<line x1="347.70" y1="335.40" x2="368.30" y2="335.40" stroke="#222" stroke-width="1.6" stroke-linecap="butt"/>
<line x1="415.90" y1="299.80" x2="415.90" y2="318.00" stroke="#222" stroke-width="1.5" stroke-linecap="butt"/>
<line x1="405.40" y1="299.80" x2="426.30" y2="299.80" stroke="#222" stroke-width="1.6" stroke-linecap="butt"/>
<line x1="474.00" y1="298.90" x2="474.00" y2="317.00" stroke="#222" stroke-width="1.5" stroke-linecap="butt"/>
<line x1="464.00" y1="298.90" x2="484.20" y2="298.90" stroke="#222" stroke-width="1.6" stroke-linecap="butt"/>
<circle cx="357.90" cy="327.00" r="2.55" fill="#a6002c"/>
<circle cx="363.40" cy="332.90" r="2.55" fill="#a6002c"/>
<circle cx="352.40" cy="337.60" r="2.55" fill="#a6002c"/>
<circle cx="352.40" cy="344.60" r="2.55" fill="#a6002c"/>
<circle cx="341.00" cy="345.90" r="2.55" fill="#a6002c"/>
<circle cx="363.40" cy="347.30" r="2.55" fill="#a6002c"/>
<circle cx="374.60" cy="344.60" r="2.55" fill="#a6002c"/>
<circle cx="352.40" cy="350.40" r="2.55" fill="#a6002c"/>
<circle cx="374.60" cy="350.90" r="2.55" fill="#a6002c"/>
<circle cx="363.40" cy="357.60" r="2.55" fill="#a6002c"/>
<circle cx="352.40" cy="362.30" r="2.55" fill="#a6002c"/>
<circle cx="363.40" cy="367.20" r="2.55" fill="#a6002c"/>
<circle cx="357.90" cy="372.40" r="2.55" fill="#a6002c"/>
<circle cx="415.90" cy="272.00" r="2.55" fill="#a6002c"/>
<circle cx="415.90" cy="284.80" r="2.55" fill="#a6002c"/>
<circle cx="410.70" cy="296.00" r="2.55" fill="#a6002c"/>
<circle cx="413.80" cy="296.80" r="2.55" fill="#a6002c"/>
<circle cx="418.40" cy="297.60" r="2.55" fill="#a6002c"/>
<circle cx="420.70" cy="299.50" r="2.55" fill="#a6002c"/>
<circle cx="411.50" cy="300.30" r="2.55" fill="#a6002c"/>
<circle cx="415.30" cy="301.00" r="2.55" fill="#a6002c"/>
<circle cx="411.50" cy="302.90" r="2.55" fill="#a6002c"/>
<circle cx="418.40" cy="302.20" r="2.55" fill="#a6002c"/>
<circle cx="416.10" cy="304.80" r="2.55" fill="#a6002c"/>
<circle cx="420.70" cy="305.60" r="2.55" fill="#a6002c"/>
<circle cx="413.80" cy="307.90" r="2.55" fill="#a6002c"/>
<circle cx="417.60" cy="308.30" r="2.55" fill="#a6002c"/>
<circle cx="413.00" cy="310.20" r="2.55" fill="#a6002c"/>
<circle cx="416.10" cy="311.00" r="2.55" fill="#a6002c"/>
<circle cx="416.80" cy="313.30" r="2.55" fill="#a6002c"/>
<circle cx="422.20" cy="314.00" r="2.55" fill="#a6002c"/>
<circle cx="424.50" cy="315.60" r="2.55" fill="#a6002c"/>
<circle cx="426.00" cy="317.10" r="2.55" fill="#a6002c"/>
<circle cx="419.90" cy="316.30" r="2.55" fill="#a6002c"/>
<circle cx="408.40" cy="318.20" r="2.55" fill="#a6002c"/>
<circle cx="412.30" cy="318.60" r="2.55" fill="#a6002c"/>
<circle cx="415.70" cy="354.10" r="2.55" fill="#a6002c"/>
<circle cx="415.70" cy="362.90" r="2.55" fill="#a6002c"/>
<circle cx="415.70" cy="369.90" r="2.55" fill="#a6002c"/>
<circle cx="407.57" cy="318.19" r="2.55" fill="#a6002c"/>
<circle cx="412.00" cy="317.39" r="2.55" fill="#a6002c"/>
<circle cx="416.65" cy="317.53" r="2.55" fill="#a6002c"/>
<circle cx="421.28" cy="317.37" r="2.55" fill="#a6002c"/>
<circle cx="425.35" cy="317.51" r="2.55" fill="#a6002c"/>
<circle cx="403.31" cy="320.81" r="2.55" fill="#a6002c"/>
<circle cx="407.88" cy="321.52" r="2.55" fill="#a6002c"/>
<circle cx="413.25" cy="320.51" r="2.55" fill="#a6002c"/>
<circle cx="417.49" cy="320.79" r="2.55" fill="#a6002c"/>
<circle cx="422.29" cy="320.47" r="2.55" fill="#a6002c"/>
<circle cx="427.54" cy="321.69" r="2.55" fill="#a6002c"/>
<circle cx="429.41" cy="320.98" r="2.55" fill="#a6002c"/>
<circle cx="400.45" cy="324.04" r="2.55" fill="#a6002c"/>
<circle cx="405.68" cy="324.27" r="2.55" fill="#a6002c"/>
<circle cx="411.18" cy="324.13" r="2.55" fill="#a6002c"/>
<circle cx="415.13" cy="325.23" r="2.55" fill="#a6002c"/>
<circle cx="420.65" cy="324.11" r="2.55" fill="#a6002c"/>
<circle cx="425.59" cy="323.94" r="2.55" fill="#a6002c"/>
<circle cx="430.48" cy="325.27" r="2.55" fill="#a6002c"/>
<circle cx="404.44" cy="328.47" r="2.55" fill="#a6002c"/>
<circle cx="408.84" cy="328.01" r="2.55" fill="#a6002c"/>
<circle cx="413.84" cy="328.58" r="2.55" fill="#a6002c"/>
<circle cx="419.40" cy="328.59" r="2.55" fill="#a6002c"/>
<circle cx="424.27" cy="327.81" r="2.55" fill="#a6002c"/>
<circle cx="429.97" cy="328.88" r="2.55" fill="#a6002c"/>
<circle cx="432.57" cy="328.63" r="2.55" fill="#a6002c"/>
<circle cx="400.43" cy="332.04" r="2.55" fill="#a6002c"/>
<circle cx="404.44" cy="331.72" r="2.55" fill="#a6002c"/>
<circle cx="409.31" cy="331.04" r="2.55" fill="#a6002c"/>
<circle cx="413.63" cy="331.39" r="2.55" fill="#a6002c"/>
<circle cx="418.62" cy="331.97" r="2.55" fill="#a6002c"/>
<circle cx="424.17" cy="331.63" r="2.55" fill="#a6002c"/>
<circle cx="428.86" cy="332.38" r="2.55" fill="#a6002c"/>
<circle cx="433.60" cy="331.51" r="2.55" fill="#a6002c"/>
<circle cx="401.33" cy="334.82" r="2.55" fill="#a6002c"/>
<circle cx="406.13" cy="334.79" r="2.55" fill="#a6002c"/>
<circle cx="411.47" cy="335.76" r="2.55" fill="#a6002c"/>
<circle cx="416.56" cy="335.17" r="2.55" fill="#a6002c"/>
<circle cx="421.16" cy="335.62" r="2.55" fill="#a6002c"/>
<circle cx="425.31" cy="335.42" r="2.55" fill="#a6002c"/>
<circle cx="431.13" cy="335.60" r="2.55" fill="#a6002c"/>
<circle cx="433.35" cy="335.17" r="2.55" fill="#a6002c"/>
<circle cx="405.86" cy="338.30" r="2.55" fill="#a6002c"/>
<circle cx="411.23" cy="338.32" r="2.55" fill="#a6002c"/>
<circle cx="417.18" cy="337.75" r="2.55" fill="#a6002c"/>
<circle cx="421.67" cy="338.53" r="2.55" fill="#a6002c"/>
<circle cx="427.24" cy="337.44" r="2.55" fill="#a6002c"/>
<circle cx="431.70" cy="337.41" r="2.55" fill="#a6002c"/>
<circle cx="410.94" cy="340.93" r="2.55" fill="#a6002c"/>
<circle cx="414.83" cy="340.96" r="2.55" fill="#a6002c"/>
<circle cx="420.63" cy="340.72" r="2.55" fill="#a6002c"/>
<circle cx="422.27" cy="340.57" r="2.55" fill="#a6002c"/>
<circle cx="408.51" cy="343.42" r="2.55" fill="#a6002c"/>
<circle cx="414.47" cy="344.31" r="2.55" fill="#a6002c"/>
<circle cx="418.88" cy="344.71" r="2.55" fill="#a6002c"/>
<circle cx="412.92" cy="347.22" r="2.55" fill="#a6002c"/>
<circle cx="414.84" cy="346.30" r="2.55" fill="#a6002c"/>
<circle cx="474.10" cy="281.40" r="2.55" fill="#a6002c"/>
<circle cx="474.10" cy="292.30" r="2.55" fill="#a6002c"/>
<circle cx="484.50" cy="305.50" r="2.55" fill="#a6002c"/>
<circle cx="474.10" cy="309.70" r="2.55" fill="#a6002c"/>
<circle cx="463.70" cy="312.80" r="2.55" fill="#a6002c"/>
<circle cx="484.50" cy="313.70" r="2.55" fill="#a6002c"/>
<circle cx="463.60" cy="320.00" r="2.55" fill="#a6002c"/>
<circle cx="484.70" cy="322.80" r="2.55" fill="#a6002c"/>
<circle cx="463.60" cy="326.40" r="2.55" fill="#a6002c"/>
<circle cx="473.90" cy="326.40" r="2.55" fill="#a6002c"/>
<circle cx="473.90" cy="333.10" r="2.55" fill="#a6002c"/>
<circle cx="484.70" cy="331.90" r="2.55" fill="#a6002c"/>
<circle cx="469.10" cy="344.30" r="2.55" fill="#a6002c"/>
<circle cx="479.20" cy="345.70" r="2.55" fill="#a6002c"/>
<circle cx="463.60" cy="351.70" r="2.55" fill="#a6002c"/>
<circle cx="473.90" cy="353.40" r="2.55" fill="#a6002c"/>
<circle cx="484.70" cy="351.50" r="2.55" fill="#a6002c"/>
<circle cx="473.90" cy="365.80" r="2.55" fill="#a6002c"/>
<circle cx="479.20" cy="380.90" r="2.55" fill="#a6002c"/>
<circle cx="469.10" cy="384.00" r="2.55" fill="#a6002c"/>
<line x1="319.00" y1="254.10" x2="319.00" y2="387.80" stroke="#111" stroke-width="1.9" stroke-linecap="butt"/>
<line x1="314.60" y1="386.90" x2="319.00" y2="386.90" stroke="#111" stroke-width="1.3" stroke-linecap="butt"/>
<text x="309.80" y="390.00" font-size="9.8" text-anchor="end" fill="#1a1a1a" stroke="#1a1a1a" stroke-width="0.1" textLength="5.20" lengthAdjust="spacingAndGlyphs">1</text>
<line x1="316.50" y1="373.99" x2="319.00" y2="373.99" stroke="#111" stroke-width="1.15" stroke-linecap="butt"/>
<line x1="316.50" y1="366.43" x2="319.00" y2="366.43" stroke="#111" stroke-width="1.15" stroke-linecap="butt"/>
<line x1="316.50" y1="361.07" x2="319.00" y2="361.07" stroke="#111" stroke-width="1.15" stroke-linecap="butt"/>
<line x1="316.50" y1="356.91" x2="319.00" y2="356.91" stroke="#111" stroke-width="1.15" stroke-linecap="butt"/>
<line x1="316.50" y1="353.52" x2="319.00" y2="353.52" stroke="#111" stroke-width="1.15" stroke-linecap="butt"/>
<line x1="316.50" y1="350.65" x2="319.00" y2="350.65" stroke="#111" stroke-width="1.15" stroke-linecap="butt"/>
<line x1="316.50" y1="348.16" x2="319.00" y2="348.16" stroke="#111" stroke-width="1.15" stroke-linecap="butt"/>
<line x1="316.50" y1="345.96" x2="319.00" y2="345.96" stroke="#111" stroke-width="1.15" stroke-linecap="butt"/>
<line x1="314.60" y1="344.00" x2="319.00" y2="344.00" stroke="#111" stroke-width="1.3" stroke-linecap="butt"/>
<text x="309.80" y="347.10" font-size="9.8" text-anchor="end" fill="#1a1a1a" stroke="#1a1a1a" stroke-width="0.1" textLength="10.40" lengthAdjust="spacingAndGlyphs">10</text>
<line x1="316.50" y1="331.09" x2="319.00" y2="331.09" stroke="#111" stroke-width="1.15" stroke-linecap="butt"/>
<line x1="316.50" y1="323.53" x2="319.00" y2="323.53" stroke="#111" stroke-width="1.15" stroke-linecap="butt"/>
<line x1="316.50" y1="318.17" x2="319.00" y2="318.17" stroke="#111" stroke-width="1.15" stroke-linecap="butt"/>
<line x1="316.50" y1="314.01" x2="319.00" y2="314.01" stroke="#111" stroke-width="1.15" stroke-linecap="butt"/>
<line x1="316.50" y1="310.62" x2="319.00" y2="310.62" stroke="#111" stroke-width="1.15" stroke-linecap="butt"/>
<line x1="316.50" y1="307.75" x2="319.00" y2="307.75" stroke="#111" stroke-width="1.15" stroke-linecap="butt"/>
<line x1="316.50" y1="305.26" x2="319.00" y2="305.26" stroke="#111" stroke-width="1.15" stroke-linecap="butt"/>
<line x1="316.50" y1="303.06" x2="319.00" y2="303.06" stroke="#111" stroke-width="1.15" stroke-linecap="butt"/>
<line x1="314.60" y1="301.10" x2="319.00" y2="301.10" stroke="#111" stroke-width="1.3" stroke-linecap="butt"/>
<text x="309.80" y="304.20" font-size="9.8" text-anchor="end" fill="#1a1a1a" stroke="#1a1a1a" stroke-width="0.1" textLength="15.60" lengthAdjust="spacingAndGlyphs">100</text>
<line x1="316.50" y1="288.19" x2="319.00" y2="288.19" stroke="#111" stroke-width="1.15" stroke-linecap="butt"/>
<line x1="316.50" y1="280.63" x2="319.00" y2="280.63" stroke="#111" stroke-width="1.15" stroke-linecap="butt"/>
<line x1="316.50" y1="275.27" x2="319.00" y2="275.27" stroke="#111" stroke-width="1.15" stroke-linecap="butt"/>
<line x1="316.50" y1="271.11" x2="319.00" y2="271.11" stroke="#111" stroke-width="1.15" stroke-linecap="butt"/>
<line x1="316.50" y1="267.72" x2="319.00" y2="267.72" stroke="#111" stroke-width="1.15" stroke-linecap="butt"/>
<line x1="316.50" y1="264.85" x2="319.00" y2="264.85" stroke="#111" stroke-width="1.15" stroke-linecap="butt"/>
<line x1="316.50" y1="262.36" x2="319.00" y2="262.36" stroke="#111" stroke-width="1.15" stroke-linecap="butt"/>
<line x1="316.50" y1="260.16" x2="319.00" y2="260.16" stroke="#111" stroke-width="1.15" stroke-linecap="butt"/>
<line x1="314.60" y1="258.20" x2="319.00" y2="258.20" stroke="#111" stroke-width="1.3" stroke-linecap="butt"/>
<text x="309.80" y="261.30" font-size="9.8" text-anchor="end" fill="#1a1a1a" stroke="#1a1a1a" stroke-width="0.1" textLength="20.80" lengthAdjust="spacingAndGlyphs">1000</text>
<line x1="318.30" y1="387.20" x2="502.50" y2="387.20" stroke="#111" stroke-width="1.9" stroke-linecap="butt"/>
<line x1="358.10" y1="387.20" x2="358.10" y2="391.60" stroke="#111" stroke-width="1.3" stroke-linecap="butt"/>
<line x1="415.90" y1="387.20" x2="415.90" y2="391.60" stroke="#111" stroke-width="1.3" stroke-linecap="butt"/>
<line x1="473.60" y1="387.20" x2="473.60" y2="391.60" stroke="#111" stroke-width="1.3" stroke-linecap="butt"/>
<text x="358.10" y="405.40" font-size="10" text-anchor="middle" fill="#1a1a1a" stroke="#1a1a1a" stroke-width="0.22" textLength="14.60" lengthAdjust="spacingAndGlyphs">HC</text>
<text x="415.50" y="405.40" font-size="10" text-anchor="middle" fill="#1a1a1a" stroke="#1a1a1a" stroke-width="0.22" textLength="59.20" lengthAdjust="spacingAndGlyphs">SCD-Baseline</text>
<text x="474.00" y="405.40" font-size="10" text-anchor="middle" fill="#1a1a1a" stroke="#1a1a1a" stroke-width="0.22" textLength="46.70" lengthAdjust="spacingAndGlyphs">SCD-Crisis</text>
<text x="280.70" y="321.30" font-size="12.5" text-anchor="middle" fill="#1a1a1a" stroke="#1a1a1a" stroke-width="0.22" textLength="81.70" lengthAdjust="spacingAndGlyphs" transform="rotate(-90 280.70 321.30)">MT-ND6/TERT ratio</text>
<text x="411.60" y="227.30" font-size="10" text-anchor="middle" fill="#1a1a1a" stroke="#1a1a1a" stroke-width="0.22" textLength="61.50" lengthAdjust="spacingAndGlyphs">MT-ND6:TERT</text>
<path d="M346.0 267.5 V240.6 H474.0 V266.6" fill="none" stroke="#111" stroke-width="1.5"/>
<path d="M346.0 258.5 H416.0 V266.5" fill="none" stroke="#111" stroke-width="1.5"/>
<polygon points="410.10,234.75 410.60,235.91 411.86,236.03 410.91,236.86 411.19,238.10 410.10,237.45 409.01,238.10 409.29,236.86 408.34,236.03 409.60,235.91" fill="#1a1a1a"/>
<polygon points="376.20,252.65 376.70,253.81 377.96,253.93 377.01,254.76 377.29,256.00 376.20,255.35 375.11,256.00 375.39,254.76 374.44,253.93 375.70,253.81" fill="#1a1a1a"/>
<polygon points="379.40,252.65 379.90,253.81 381.16,253.93 380.21,254.76 380.49,256.00 379.40,255.35 378.31,256.00 378.59,254.76 377.64,253.93 378.90,253.81" fill="#1a1a1a"/>
<polygon points="382.60,252.65 383.10,253.81 384.36,253.93 383.41,254.76 383.69,256.00 382.60,255.35 381.51,256.00 381.79,254.76 380.84,253.93 382.10,253.81" fill="#1a1a1a"/>
<polygon points="385.80,252.65 386.30,253.81 387.56,253.93 386.61,254.76 386.89,256.00 385.80,255.35 384.71,256.00 384.99,254.76 384.04,253.93 385.30,253.81" fill="#1a1a1a"/>
<rect x="0.85" y="0.85" width="518.3" height="416.3" fill="none" stroke="#000" stroke-width="1.7"/>
</svg>
</body></html>
